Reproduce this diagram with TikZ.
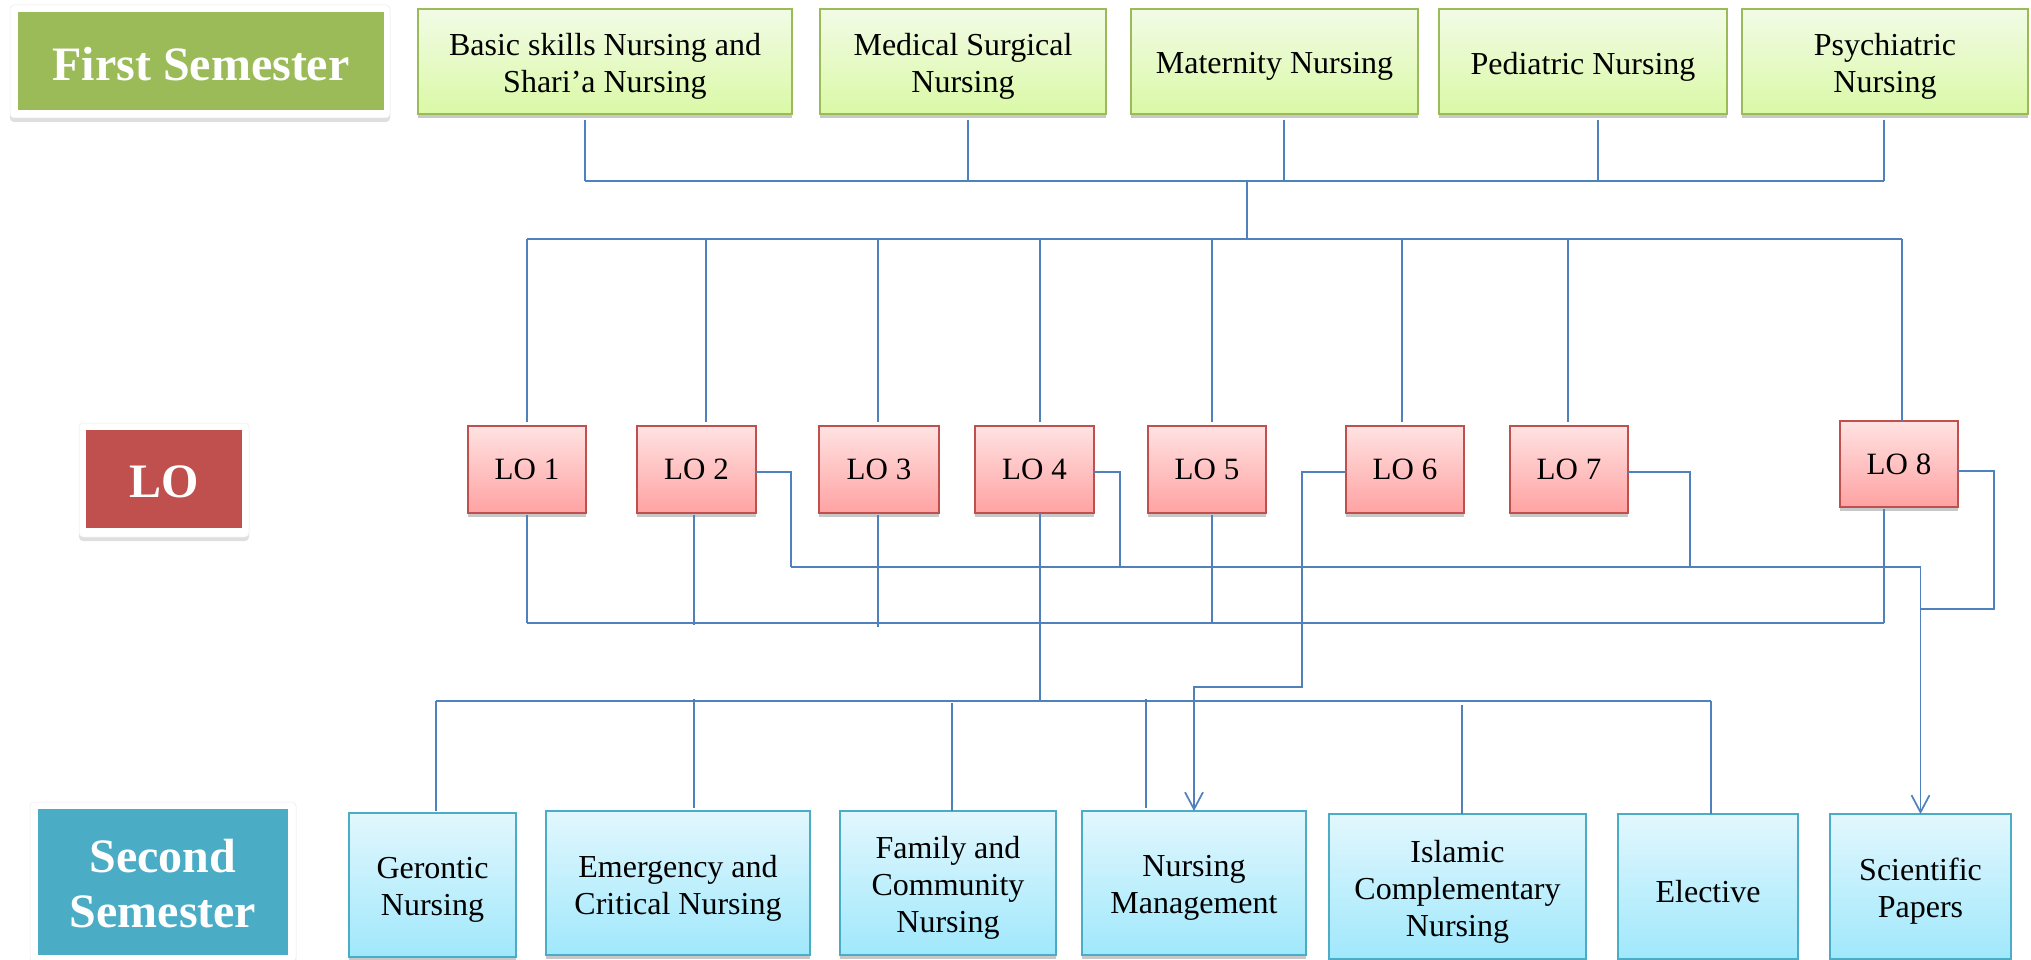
\documentclass[tikz,border=0pt]{standalone}
\usepackage{fontspec}
\setmainfont{Liberation Serif}
\usetikzlibrary{calc,shadows,arrows.meta}
\definecolor{conncol}{RGB}{79,129,189}
\definecolor{fsgreen}{RGB}{155,187,89}
\definecolor{lored}{RGB}{192,80,77}
\definecolor{ssblue}{RGB}{75,172,198}
\definecolor{gtop}{RGB}{242,251,230}
\definecolor{gbot}{RGB}{218,249,166}
\definecolor{rtop}{RGB}{255,226,226}
\definecolor{rbot}{RGB}{255,162,162}
\definecolor{btop}{RGB}{226,247,253}
\definecolor{bbot}{RGB}{160,232,252}
\tikzset{
 conn/.style={draw=conncol, line width=1.7pt},
 shad/.style={drop shadow={shadow xshift=0pt, shadow yshift=-4pt, opacity=0.3, fill=black!70}},
 basebox/.style={rectangle, inner sep=0pt, outer sep=0pt, align=center, text=black, font=\fontsize{32}{37}\selectfont},
 btxt/.style={inner sep=0pt, outer sep=0pt, align=center, text=black, font=\fontsize{32}{37}\selectfont},
 gbox/.style={basebox, shad, draw=fsgreen, line width=2pt, top color=gtop, bottom color=gbot},
 lobox/.style={basebox, shad, draw=lored, line width=2.5pt, top color=rtop, bottom color=rbot, font=\fontsize{31}{36}\selectfont},
 bbox/.style={basebox, shad, draw=ssblue, line width=2.5pt, top color=btop, bottom color=bbot},
 tagframe/.style={rectangle, rounded corners=4pt, fill=white, draw=black!8, line width=0.5pt, inner sep=0pt, outer sep=0pt, drop shadow={shadow xshift=0pt, shadow yshift=-4pt, opacity=0.25}},
 tagbox/.style={rectangle, inner sep=0pt, outer sep=0pt},
 tagtxt/.style={inner sep=0pt, outer sep=0pt, text=white, align=center, font=\fontsize{48}{55}\selectfont\bfseries},
 arr/.style={-{Straight Barb[length=17pt,width=18pt]}},
}
\begin{document}
\begin{tikzpicture}[x=1pt,y=-1pt]
\useasboundingbox (0,0) rectangle (2031,960);
\fill[white] (0,0) rectangle (2031,960);

% label boxes
\node[tagframe, minimum width=380pt, minimum height=113pt] (fsf) at (200,61.5) {};
\node[tagbox, fill=fsgreen, minimum width=366pt, minimum height=98pt] (fs) at (201,61) {};
\node[tagtxt] at ($(fs.center)+(0,3)$) {First Semester};
\node[tagframe, minimum width=170pt, minimum height=114pt] (lof) at (164,480) {};
\node[tagbox, fill=lored, minimum width=156pt, minimum height=98pt] (lotag) at (164,479) {};
\node[tagtxt] at ($(lotag.center)+(0,3)$) {LO};
\node[tagframe, minimum width=266pt, minimum height=160pt] (ssf) at (163,882) {};
\node[tagbox, fill=ssblue, minimum width=250pt, minimum height=146pt] (ss) at (163,882) {};
\node[tagtxt] at ($(ss.center)+(0,2)$) {Second\\Semester};

% first semester courses
\node[gbox, minimum width=374pt, minimum height=105pt] (basic) at (605,61.5) {};
\node[gbox, minimum width=286pt, minimum height=105pt] (medical) at (963,61.5) {};
\node[gbox, minimum width=287pt, minimum height=105pt] (maternity) at (1274.5,61.5) {};
\node[gbox, minimum width=288pt, minimum height=105pt] (pediatric) at (1583,61.5) {};
\node[gbox, minimum width=286pt, minimum height=105pt] (psychiatric) at (1885,61.5) {};
\node[btxt] at ($(basic.center)+(0,5)$) {Basic skills Nursing and\\Shari’a Nursing};
\node[btxt] at ($(medical.center)+(0,5)$) {Medical Surgical\\Nursing};
\node[btxt] at ($(maternity.center)+(0,5)$) {Maternity Nursing};
\node[btxt] at ($(pediatric.center)+(0,5)$) {Pediatric Nursing};
\node[btxt] at ($(psychiatric.center)+(0,5)$) {Psychiatric\\Nursing};

% LO boxes
\node[lobox, minimum width=118pt, minimum height=87pt] (lo1) at (527,469.5) {LO 1};
\node[lobox, minimum width=119pt, minimum height=87pt] (lo2) at (696.5,469.5) {LO 2};
\node[lobox, minimum width=120pt, minimum height=87pt] (lo3) at (879,469.5) {LO 3};
\node[lobox, minimum width=119pt, minimum height=87pt] (lo4) at (1034.5,469.5) {LO 4};
\node[lobox, minimum width=118pt, minimum height=87pt] (lo5) at (1207,469.5) {LO 5};
\node[lobox, minimum width=118pt, minimum height=87pt] (lo6) at (1405,469.5) {LO 6};
\node[lobox, minimum width=118pt, minimum height=87pt] (lo7) at (1569,469.5) {LO 7};
\node[lobox, minimum width=118pt, minimum height=86pt] (lo8) at (1899,464) {LO 8};

% second semester courses
\node[bbox, minimum width=167pt, minimum height=144pt] (ger) at (432.5,885) {};
\node[bbox, minimum width=264pt, minimum height=144pt] (eme) at (678,883) {};
\node[bbox, minimum width=216pt, minimum height=144pt] (fam) at (948,883) {};
\node[bbox, minimum width=224pt, minimum height=144pt] (nm) at (1194,883) {};
\node[bbox, minimum width=257pt, minimum height=145pt] (isl) at (1457.5,886.5) {};
\node[bbox, minimum width=180pt, minimum height=145pt] (ele) at (1708,886.5) {};
\node[bbox, minimum width=181pt, minimum height=145pt] (sci) at (1920.5,886.5) {};
\node[btxt] at ($(ger.center)+(0,5)$) {Gerontic\\Nursing};
\node[btxt] at ($(eme.center)+(0,5)$) {Emergency and\\Critical Nursing};
\node[btxt] at ($(fam.center)+(0,5)$) {Family and\\Community\\Nursing};
\node[btxt] at ($(nm.center)+(0,5)$) {Nursing\\Management};
\node[btxt] at ($(isl.center)+(0,5)$) {Islamic\\Complementary\\Nursing};
\node[btxt] at ($(ele.center)+(0,5)$) {Elective};
\node[btxt] at ($(sci.center)+(0,5)$) {Scientific\\Papers};

% bus levels
\coordinate (topbus) at (0,181);
\coordinate (lobus) at (0,239);
\coordinate (midbus) at (0,567);
\coordinate (lowbus) at (0,623);
\coordinate (ssbus) at (0,701);

% first semester to top bus
\foreach \n/\d in {basic/-20,medical/5,maternity/9.5,pediatric/15,psychiatric/-1}{
  \path (\n.south) ++(\d,6) coordinate (t);
  \path (t |- topbus) coordinate (g-\n);
  \draw[conn] (t) -- (g-\n);
}
\draw[conn] (g-basic) -- (g-psychiatric);
\coordinate (trunk) at (1247,181);
\draw[conn] (trunk) -- (trunk |- lobus);

% LO bus to LO boxes
\foreach \n/\d/\g in {lo1/0/4,lo2/9.5/4,lo3/-1/4,lo4/5.5/4,lo5/5/4,lo6/-3/4,lo7/-1/4,lo8/3/0}{
  \path (\n.north) ++(\d,-\g) coordinate (t);
  \path (t |- lobus) coordinate (l-\n);
  \draw[conn] (t) -- (l-\n);
}
\draw[conn] (l-lo1) -- (l-lo8);

% LO bottoms to low bus
\foreach \n/\d/\e in {lo1/0/0,lo2/-2.5/2,lo3/-1/4,lo5/5/1,lo8/-15/0}{
  \path (\n.south) ++(\d,2) coordinate (t);
  \path (t |- lowbus) ++(0,\e) coordinate (w-\n);
  \draw[conn] (t) -- (w-\n);
}
\draw[conn] (w-lo1) -- (w-lo8);

% LO4 trunk to second semester bus
\path (lo4.south) ++(5.5,0) coordinate (t4);
\draw[conn] (t4) -- (t4 |- ssbus);

% mid bus to Scientific Papers
\draw[conn] (lo2.east) ++(0,2.5) -- ++(35,0) coordinate (m1) -- (m1 |- midbus);
\draw[conn] (lo4.east) ++(0,2.5) -- ++(26,0) coordinate (m2) -- (m2 |- midbus);
\draw[conn] (lo7.east) ++(0,2.5) -- ++(62,0) coordinate (m3) -- (m3 |- midbus);
\draw[conn] (m1 |- midbus) -- (sci.north |- midbus);
\draw[conn, arr] (sci.north |- midbus) -- (sci.north);
\draw[conn] (lo8.east) ++(0,7) -- ++(36,0) -- ++(0,138) coordinate (m4) -- (m4 -| sci.north);

% LO6 to Nursing Management
\draw[conn, arr] (lo6.west) ++(0,2.5) -- ++(-44,0) -- ++(0,215) coordinate (m5) -- (m5 -| nm.north) -- (nm.north);

% second semester bus to courses
\foreach \n/\d/\s/\e in {ger/3.5/-2/0,eme/16/-3/-2,fam/4/0/2,nm/-48/-3/-2,isl/4.5/0/4,ele/3/0/0}{
  \path (\n.north) ++(\d,\s) coordinate (t);
  \path (t |- ssbus) ++(0,\e) coordinate (s-\n);
  \draw[conn] (t) -- (s-\n);
}
\draw[conn] (s-ger) -- (s-ele);
\end{tikzpicture}
\end{document}
